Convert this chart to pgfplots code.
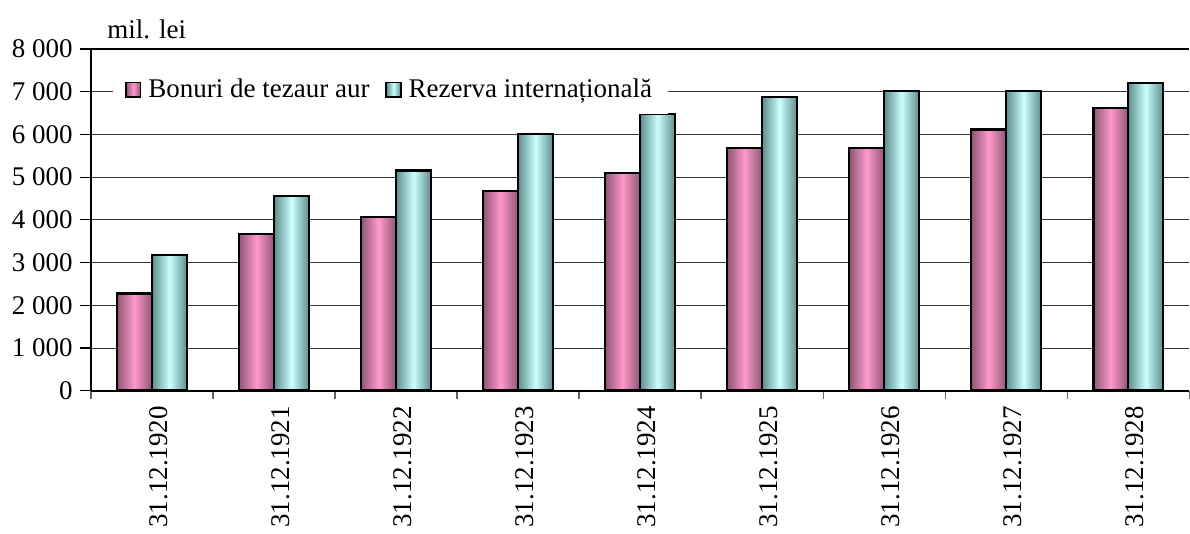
\documentclass[border=0pt]{standalone}
\usepackage{pgfplots}
\pgfplotsset{compat=1.18}
\usepackage{fontspec}
\setmainfont{Liberation Serif}

\definecolor{pinkmid}{HTML}{FF99CC}
\definecolor{pinkedge}{HTML}{8E5673}
\definecolor{cyanmid}{HTML}{CCFFFF}
\definecolor{cyanedge}{HTML}{5E8C8C}

\pgfplotsset{
    barimg/.style={legend image code/.code={\draw[##1, draw=black, line width=0.9pt] (0pt,-3.6pt) rectangle (7.2pt,3.6pt);}},
    pinkbar/.style={ybar, bar width=17.5pt, bar shift=-8.75pt, draw=black, line width=1.3pt,
        left color=pinkedge, right color=pinkedge, middle color=pinkmid, barimg},
    cyanbar/.style={ybar, bar width=17.5pt, bar shift=8.75pt, draw=black, line width=1.3pt,
        left color=cyanedge, right color=cyanedge, middle color=cyanmid, barimg},
}
% one \addplot per bar, so that each bar gets its own shading
\newcommand{\pbar}[2]{\addplot[pinkbar, forget plot] coordinates {(#1,#2)};}
\newcommand{\cbar}[2]{\addplot[cyanbar, forget plot] coordinates {(#1,#2)};}

\begin{document}
\begin{tikzpicture}
\begin{axis}[
    scale only axis,
    width=549.5pt, height=171pt,
    clip=false,
    font=\fontsize{13.5}{15}\selectfont,
    xmin=-0.5, xmax=8.5,
    ymin=0, ymax=8000,
    ytick={0,1000,...,8000},
    xtick={0,...,8},
    xticklabels={31.12.1920,31.12.1921,31.12.1922,31.12.1923,31.12.1924,31.12.1925,31.12.1926,31.12.1927,31.12.1928},
    xticklabel style={rotate=90, anchor=east, inner sep=2pt, yshift=-3.5pt},
    minor xtick={-0.5,0.5,...,8.5},
    major x tick style={draw=none},
    minor x tick style={draw=black!60, line width=0.6pt},
    minor tick length=4pt,
    major tick length=5.5pt,
    ytick style={black, line width=0.6pt},
    tick align=outside,
    xtick pos=left, ytick pos=left,
    ymajorgrids=true,
    grid style={black!80, line width=0.5pt},
    axis line style={draw=none},
    /pgf/number format/1000 sep={\ },
    /pgf/number format/assume math mode=true,
    yticklabel style={inner sep=3.5pt},
    legend columns=2,
    legend style={at={(0.02,0.955)}, anchor=north west, draw=none, fill=white,
        inner xsep=6pt, inner ysep=5pt,
        /tikz/every odd column/.append style={column sep=1.5pt},
        /tikz/every even column/.append style={column sep=6pt}},
]
% first bar of each series carries the legend entry
\addplot[pinkbar] coordinates {(0,2270)};
\addplot[cyanbar] coordinates {(0,3180)};
\legend{Bonuri de tezaur aur, Rezerva internațională}
\pbar{1}{3670} \cbar{1}{4560}
\pbar{2}{4070} \cbar{2}{5150}
\pbar{3}{4680} \cbar{3}{6010}
\pbar{4}{5100} \cbar{4}{6480}
\pbar{5}{5680} \cbar{5}{6880}
\pbar{6}{5680} \cbar{6}{7020}
\pbar{7}{6110} \cbar{7}{7020}
\pbar{8}{6620} \cbar{8}{7200}
\draw[black, line width=0.8pt] (rel axis cs:0,0) -- (rel axis cs:0,1) -- (rel axis cs:1,1);
\draw[black, line width=0.8pt] (rel axis cs:0,0) -- (rel axis cs:1,0);
\node[anchor=south west, inner sep=0pt] at ([xshift=8pt, yshift=5pt]rel axis cs:0,1) {\fontsize{13.5}{15}\selectfont mil. lei};
% page margins as in the reference
\path ([xshift=-45.5pt, yshift=24.5pt]rel axis cs:0,1);
\path ([yshift=-71.5pt]rel axis cs:0,0);
\end{axis}
\end{tikzpicture}
\end{document}
